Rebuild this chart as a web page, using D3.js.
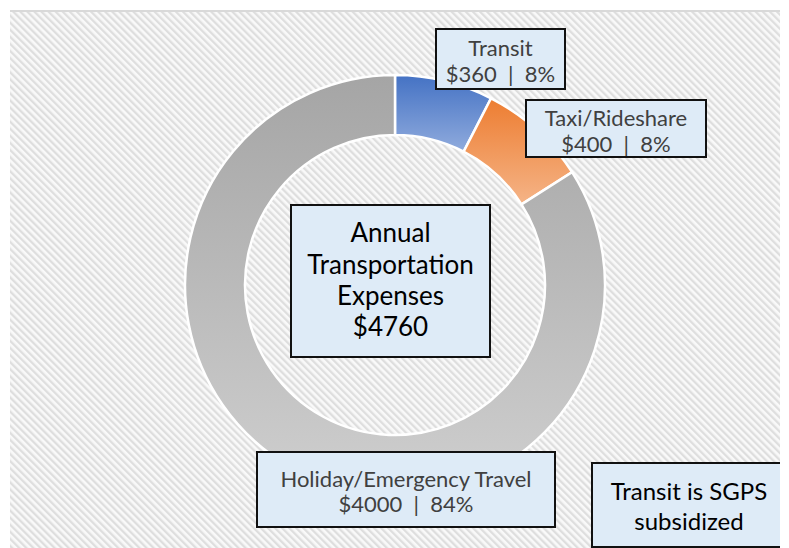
<!DOCTYPE html>
<html>
<head>
<meta charset="utf-8">
<script src="https://cdn.jsdelivr.net/npm/d3@7"></script>
<style>
  html, body { margin: 0; padding: 0; background: #ffffff; }
  svg { display: block; }
  text { white-space: pre; }
</style>
</head>
<body>
<div id="chart"></div>
<script>
// ---- data ----
const categories = ["Transit", "Taxi/Rideshare", "Holiday/Emergency Travel"];
const values = [360, 400, 4000];
const centerTitle = ["Annual", "Transportation", "Expenses"];
const noteLines = ["Transit is SGPS", "subsidized"];

// ---- styles / layout ----
const W = 789, H = 548;
const area = {x: 10, y: 10, w: 770, h: 538};
const cx = 395, cy = 285, rOuter = 210, rInner = 150;
const gradStops = [
  ["#4472c4", "#90abdd"],
  ["#ed7d31", "#f5b487"],
  ["#a5a5a5", "#cfcfcf"]
];
const labelBoxes = [
  {x: 436, y: 29, w: 129, h: 60, ty: [47, 73]},
  {x: 526, y: 100, w: 180, h: 57, ty: [117, 143]},
  {x: 257, y: 452, w: 298, h: 75, ty: [478, 503]}
];
const centerBox = {x: 291, y: 205, w: 199, h: 152, ty: [232, 264, 295, 326]};
const noteBox = {x: 592, y: 463, w: 194, h: 84, ty: [490, 520]};

const total = d3.sum(values);
const fmtPct = v => Math.round(v / total * 100) + "%";

const svg = d3.select("#chart").append("svg").attr("width", W).attr("height", H);
const defs = svg.append("defs");

const pat = defs.append("pattern")
  .attr("id", "diag").attr("patternUnits", "userSpaceOnUse")
  .attr("width", 5).attr("height", 5)
  .attr("patternTransform", "rotate(-45)");
pat.append("rect").attr("width", 5).attr("height", 5).attr("fill", "#f9f9f9");
pat.append("rect").attr("width", 2.3).attr("height", 5).attr("fill", "#dedede");

defs.append("clipPath").attr("id", "areaClip")
  .append("rect").attr("x", area.x).attr("y", area.y).attr("width", area.w).attr("height", area.h);

gradStops.forEach((g, i) => {
  const lg = defs.append("linearGradient").attr("id", "g" + i)
    .attr("x1", 0).attr("y1", 0).attr("x2", 0).attr("y2", 1);
  lg.append("stop").attr("offset", "0%").attr("stop-color", g[0]);
  lg.append("stop").attr("offset", "100%").attr("stop-color", g[1]);
});

const root = svg.append("g").attr("clip-path", "url(#areaClip)");
root.append("rect").attr("x", area.x).attr("y", area.y).attr("width", area.w).attr("height", area.h)
  .attr("fill", "url(#diag)");
svg.append("rect").attr("x", area.x).attr("y", area.y).attr("width", area.w).attr("height", 2)
  .attr("fill", "#d9d9d9");

const pie = d3.pie().sort(null).value(d => d);
const arc = d3.arc().innerRadius(rInner).outerRadius(rOuter);
root.append("g").attr("transform", `translate(${cx},${cy})`)
  .selectAll("path").data(pie(values)).join("path")
  .attr("d", arc)
  .attr("fill", (d, i) => `url(#g${i})`)
  .attr("stroke", "#ffffff").attr("stroke-width", 2.5);

function box(b, lines, opts) {
  const g = root.append("g");
  g.append("rect").attr("x", b.x).attr("y", b.y).attr("width", b.w).attr("height", b.h)
    .attr("fill", "#deebf7").attr("stroke", "#111111").attr("stroke-width", 2);
  lines.forEach((t, i) => {
    g.append("text").attr("x", b.x + b.w / 2).attr("y", b.ty[i])
      .attr("text-anchor", "middle").attr("dominant-baseline", "central")
      .attr("font-family", "Lato, 'Open Sans', sans-serif")
      .attr("font-size", opts.size).attr("fill", opts.color)
      .text(t);
  });
}

categories.forEach((c, i) => {
  box(labelBoxes[i], [c, "$" + values[i] + "  |  " + fmtPct(values[i])], {size: 22, color: "#404040"});
});
box(centerBox, centerTitle.concat(["$" + total]), {size: 26, color: "#000000"});
box(noteBox, noteLines, {size: 24, color: "#000000"});
</script>
</body>
</html>
